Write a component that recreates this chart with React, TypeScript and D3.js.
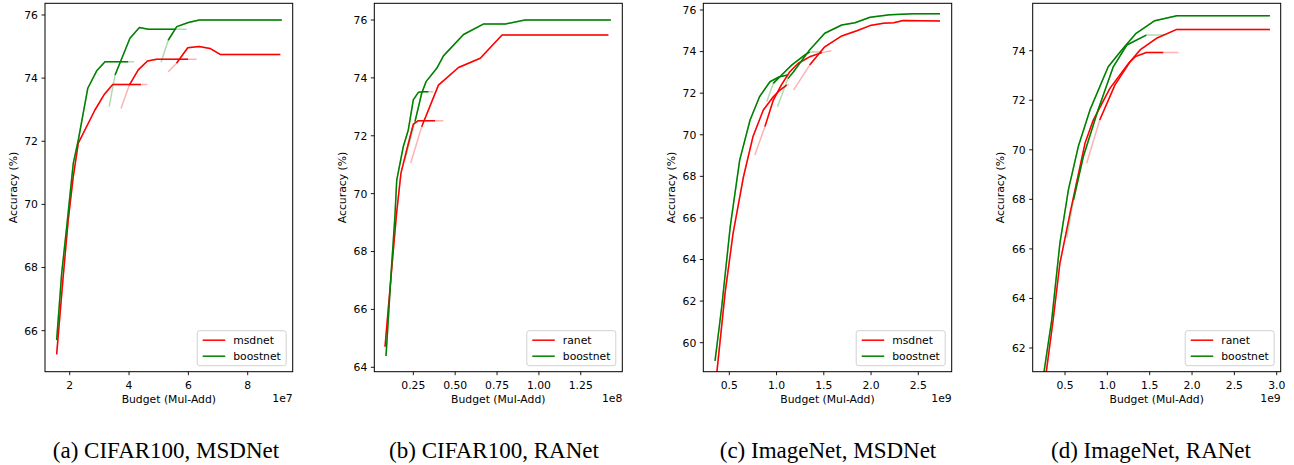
import React from 'react';
import * as d3 from 'd3';

type Pt = [number, number];
type Curve = { pts: Pt[]; solid: [number, number] };

// ---------- data ----------
const captions = ['(a) CIFAR100, MSDNet', '(b) CIFAR100, RANet', '(c) ImageNet, MSDNet', '(d) ImageNet, RANet'];
const legendA = ['msdnet', 'boostnet'];
const legendB = ['ranet', 'boostnet'];
const exponents = ['1e7', '1e8', '1e9', '1e9'];

const xTicksA = [2, 4, 6, 8];
const xTicksB = [0.25, 0.5, 0.75, 1.0, 1.25];
const xTicksC = [0.5, 1.0, 1.5, 2.0, 2.5];
const xTicksD = [0.5, 1.0, 1.5, 2.0, 2.5, 3.0];
const yTicksA = [66, 68, 70, 72, 74, 76];
const yTicksB = [64, 66, 68, 70, 72, 74, 76];
const yTicksC = [60, 62, 64, 66, 68, 70, 72, 74, 76];
const yTicksD = [62, 64, 66, 68, 70, 72, 74];

// (a) CIFAR100 MSDNet
const aMsdnet: Curve[] = [
  { pts: [[1.56, 65.25], [1.78, 67.71], [1.95, 69.5], [2.12, 70.88], [2.29, 71.94], [2.85, 72.99], [3.17, 73.49], [3.45, 73.8], [4.4, 73.8], [4.62, 73.8]], solid: [0, 8] },
  { pts: [[3.73, 73.04], [4.01, 73.78], [4.31, 74.26], [4.62, 74.54], [4.93, 74.6], [5.99, 74.6], [6.28, 74.6]], solid: [1, 5] },
  { pts: [[5.32, 74.2], [5.6, 74.47], [5.98, 74.96], [6.36, 75.0], [6.73, 74.94], [7.07, 74.75], [9.1, 74.75]], solid: [1, 6] },
];
const aBoostnet: Curve[] = [
  { pts: [[1.56, 65.7], [1.73, 67.82], [1.9, 69.3], [2.12, 71.3], [2.29, 72.04], [2.61, 73.68], [2.91, 74.23], [3.19, 74.52], [3.97, 74.52], [4.17, 74.52]], solid: [0, 8] },
  { pts: [[3.33, 73.1], [3.53, 74.1], [4.03, 75.26], [4.35, 75.6], [4.65, 75.55], [5.58, 75.55], [5.94, 75.55]], solid: [1, 5] },
  { pts: [[5.08, 74.5], [5.32, 75.2], [5.61, 75.63], [6.0, 75.76], [6.37, 75.84], [9.15, 75.84]], solid: [1, 5] },
];

// (b) CIFAR100 RANet
const bRanet: Curve[] = [
  { pts: [[0.081, 64.71], [0.11, 66.67], [0.15, 69.32], [0.176, 70.7], [0.21, 71.5], [0.25, 72.4], [0.28, 72.52], [0.38, 72.52], [0.43, 72.52]], solid: [0, 7] },
  { pts: [[0.234, 71.05], [0.3, 72.31], [0.4, 73.75], [0.52, 74.36], [0.65, 74.68], [0.78, 75.48], [1.415, 75.48]], solid: [1, 6] },
];
const bBoostnet: Curve[] = [
  { pts: [[0.087, 64.39], [0.12, 67.48], [0.14, 69.2], [0.151, 70.47], [0.19, 71.62], [0.22, 72.2], [0.25, 73.24], [0.28, 73.5], [0.31, 73.52], [0.34, 73.52], [0.37, 73.52]], solid: [0, 9] },
  { pts: [[0.2, 71.16], [0.26, 72.49], [0.3, 73.47], [0.326, 73.87], [0.39, 74.33], [0.43, 74.76], [0.55, 75.5], [0.668, 75.86], [0.8, 75.86], [0.917, 76.0], [1.43, 76.0]], solid: [1, 10] },
];

// (c) ImageNet MSDNet
const cMsdnet: Curve[] = [
  { pts: [[0.36, 58.2], [0.455, 62.37], [0.54, 65.26], [0.65, 67.98], [0.75, 69.9], [0.86, 71.19], [0.966, 71.83], [1.036, 72.15], [1.107, 72.39], [1.13, 72.42]], solid: [0, 8] },
  { pts: [[0.77, 69.03], [0.877, 70.39], [0.966, 71.67], [1.05, 72.39], [1.14, 73.03], [1.23, 73.44], [1.35, 73.75], [1.48, 73.95], [1.58, 74.04]], solid: [1, 7] },
  { pts: [[1.18, 72.15], [1.35, 73.35], [1.51, 74.23], [1.69, 74.75], [1.85, 75.0], [1.99, 75.25], [2.13, 75.36], [2.24, 75.39], [2.34, 75.49], [2.73, 75.47]], solid: [1, 9] },
];
const cBoostnet: Curve[] = [
  { pts: [[0.349, 59.13], [0.42, 61.73], [0.51, 65.58], [0.61, 68.78], [0.72, 70.71], [0.82, 71.83], [0.93, 72.55], [1.03, 72.79], [1.12, 72.87]], solid: [0, 8] },
  { pts: [[0.896, 71.59], [0.965, 72.47], [1.07, 72.95], [1.16, 73.35], [1.3, 73.84], [1.35, 73.98], [1.46, 73.98]], solid: [1, 5] },
  { pts: [[1.01, 71.35], [1.12, 72.7], [1.18, 73.03], [1.35, 74.08], [1.51, 74.88], [1.69, 75.28], [1.83, 75.39], [1.99, 75.65], [2.2, 75.77], [2.45, 75.82], [2.73, 75.82]], solid: [1, 10] },
];

// (d) ImageNet RANet
const dRanet: Curve[] = [
  { pts: [[0.27, 60.8], [0.36, 63.13], [0.44, 65.42], [0.56, 67.44], [0.677, 69.32], [0.736, 70.26], [0.834, 71.2], [1.03, 72.48], [1.25, 73.49], [1.33, 73.76], [1.46, 73.93], [1.66, 73.93], [1.84, 73.93]], solid: [0, 11] },
  { pts: [[0.756, 69.46], [0.91, 71.2], [1.09, 72.62], [1.27, 73.56], [1.386, 74.03], [1.58, 74.5], [1.82, 74.86], [2.92, 74.86]], solid: [1, 7] },
];
const dBoostnet: Curve[] = [
  { pts: [[0.24, 60.75], [0.343, 63.13], [0.44, 66.23], [0.54, 68.38], [0.657, 70.13], [0.795, 71.61], [1.01, 73.35], [1.17, 74.03], [1.34, 74.7], [1.56, 75.21], [1.82, 75.41], [2.92, 75.41]], solid: [0, 11] },
  { pts: [[0.52, 66.43], [0.6, 67.97], [0.716, 69.72], [0.89, 71.61], [1.07, 73.35], [1.23, 74.23], [1.46, 74.63], [1.68, 74.63]], solid: [1, 6] },
];

// ---------- layout ----------
const TOP = 3.3;
const BOTTOM = 371.7;
const RED = '#ff0000';
const GREEN = '#008000';
const FONT = 'DejaVu Sans, sans-serif';
const FS = 10.8;

const panels = [
  { left: 45, right: 292.7, xDom: [1.167, 9.517], yDom: [64.7, 76.37], xTicks: xTicksA, xFmt: (v: number) => String(v), yTicks: yTicksA, names: legendA, red: aMsdnet, green: aBoostnet, capX: 166 },
  { left: 374.3, right: 622.3, xDom: [0.017, 1.498], yDom: [63.848, 76.577], xTicks: xTicksB, xFmt: (v: number) => v.toFixed(2), yTicks: yTicksB, names: legendB, red: bRanet, green: bBoostnet, capX: 494 },
  { left: 703.3, right: 951.7, xDom: [0.2249, 2.8534], yDom: [58.605, 76.322], xTicks: xTicksC, xFmt: (v: number) => v.toFixed(1), yTicks: yTicksC, names: legendA, red: cMsdnet, green: cBoostnet, capX: 828 },
  { left: 1032.7, right: 1280.7, xDom: [0.1186, 3.047], yDom: [61.043, 75.913], xTicks: xTicksD, xFmt: (v: number) => v.toFixed(1), yTicks: yTicksD, names: legendB, red: dRanet, green: dBoostnet, capX: 1151 },
];

function Panel({ p, idx }: { p: (typeof panels)[number]; idx: number }) {
  const x = d3.scaleLinear().domain(p.xDom).range([p.left, p.right]);
  const y = d3.scaleLinear().domain(p.yDom).range([BOTTOM, TOP]);
  const line = d3.line<Pt>().x((d) => x(d[0])).y((d) => y(d[1]));
  const clipId = `clip${idx}`;
  const drawCurves = (curves: Curve[], color: string) =>
    curves.map((c, i) => (
      <g key={i}>
        <path d={line(c.pts) || ''} fill="none" stroke={color} strokeOpacity={0.3} strokeWidth={1.5} />
        <path d={line(c.pts.slice(c.solid[0], c.solid[1] + 1)) || ''} fill="none" stroke={color} strokeWidth={1.5} strokeLinejoin="round" />
      </g>
    ));
  const lgW = 89;
  const lgH = 35;
  const lgX = p.right - 6.5 - lgW;
  const lgY = BOTTOM - 6 - lgH;
  return (
    <g>
      <defs>
        <clipPath id={clipId}>
          <rect x={p.left} y={TOP} width={p.right - p.left} height={BOTTOM - TOP} />
        </clipPath>
      </defs>
      <g clipPath={`url(#${clipId})`}>
        {drawCurves(p.red, RED)}
        {drawCurves(p.green, GREEN)}
      </g>
      <rect x={p.left} y={TOP} width={p.right - p.left} height={BOTTOM - TOP} fill="none" stroke="#000" strokeWidth={1} />
      {p.xTicks.map((t) => (
        <g key={'x' + t}>
          <line x1={x(t)} x2={x(t)} y1={BOTTOM} y2={BOTTOM + 3.5} stroke="#000" strokeWidth={0.9} />
          <text x={x(t)} y={388.5} textAnchor="middle" fontFamily={FONT} fontSize={FS}>{p.xFmt(t)}</text>
        </g>
      ))}
      {p.yTicks.map((t) => (
        <g key={'y' + t}>
          <line x1={p.left - 3.5} x2={p.left} y1={y(t)} y2={y(t)} stroke="#000" strokeWidth={0.9} />
          <text x={p.left - 7} y={y(t) + 3.9} textAnchor="end" fontFamily={FONT} fontSize={FS}>{t}</text>
        </g>
      ))}
      <text x={(p.left + p.right) / 2} y={403} textAnchor="middle" fontFamily={FONT} fontSize={FS}>Budget (Mul-Add)</text>
      <text x={p.right} y={402} textAnchor="end" fontFamily={FONT} fontSize={FS}>{exponents[idx]}</text>
      <text transform={`translate(${p.left - 28.5},${(TOP + BOTTOM) / 2}) rotate(-90)`} textAnchor="middle" fontFamily={FONT} fontSize={FS}>Accuracy (%)</text>
      <rect x={lgX} y={lgY} width={lgW} height={lgH} rx={2.5} fill="#fff" fillOpacity={0.8} stroke="#cccccc" strokeWidth={0.9} />
      {p.names.map((n, i) => (
        <g key={n}>
          <line x1={lgX + 5.5} x2={lgX + 28} y1={lgY + 9.5 + i * 16} y2={lgY + 9.5 + i * 16} stroke={i === 0 ? RED : GREEN} strokeWidth={1.5} />
          <text x={lgX + 36} y={lgY + 9.5 + i * 16 + 3.9} fontFamily={FONT} fontSize={FS}>{n}</text>
        </g>
      ))}
      <text x={p.capX} y={458} textAnchor="middle" fontFamily="Liberation Serif, Times New Roman, serif" fontSize={23}>{captions[idx]}</text>
    </g>
  );
}

export default function App() {
  return (
    <svg width={1294} height={465} style={{ position: 'absolute', left: 0, top: 0, background: '#fff' }}>
      <rect x={0} y={0} width={1294} height={465} fill="#fff" />
      {panels.map((p, i) => (
        <Panel key={i} p={p} idx={i} />
      ))}
    </svg>
  );
}
